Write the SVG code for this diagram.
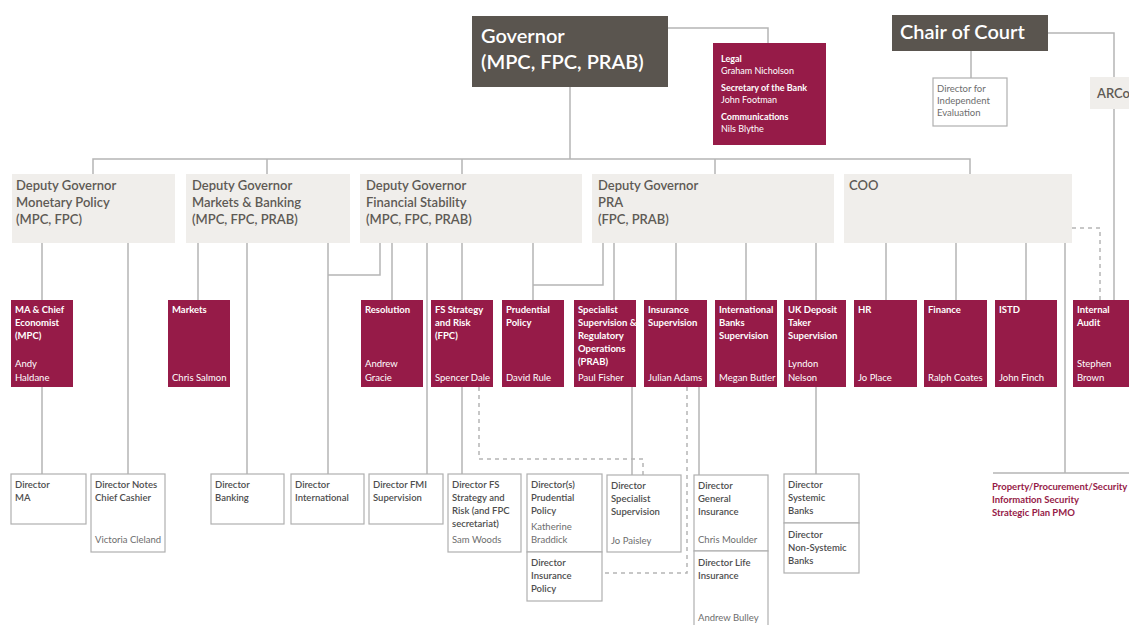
<svg xmlns="http://www.w3.org/2000/svg" width="1129" height="625" viewBox="0 0 1129 625">
<style>
.c{fill:none;stroke:#b5b5b5;stroke-width:1.5}
.d{fill:none;stroke:#b5b5b5;stroke-width:1.5;stroke-dasharray:4 4}
.dark{fill:#5a554f}
.dep{fill:#f0eeeb}
.red{fill:#961b48}
.dir{fill:#fff;stroke:#b0b0b0;stroke-width:1.2}
text{font-family:Lato,"Open Sans",sans-serif}
.h1{fill:#fff;font-size:20px;font-weight:600}
.dt{fill:#5e5a55;font-size:13px;font-weight:600}
.rt{fill:#fff;font-size:9.5px;font-weight:700}
.rn{fill:#fff;font-size:9.5px;font-weight:400}
.xt{fill:#4d4d4d;font-size:9.5px;font-weight:600}
.xn{fill:#6d6d6d;font-size:9.5px;font-weight:400}
.pt{fill:#961b48;font-size:9.5px;font-weight:700}
</style>
<rect width="1129" height="625" fill="#fff"/>
<g id="connectors">
<path class="c" d="M570,87V159M93,174V159H970V174M267,159V174M462,159V174M715,159V174"/>
<path class="c" d="M668,28H768V43M971,51V78M1048,33H1114V77M1114,109V300"/>
<path class="c" d="M42,243V474M128,243V474M198,243V300M247,243V474M328,243V474"/>
<path class="c" d="M380,243V275H328M392,243V300M427,243V474M462,243V474M533,243V300"/>
<path class="c" d="M603,243V285H533M614,243V300M632,387V475M676,243V300M699,387V475M746,243V300M816,243V474"/>
<path class="c" d="M886,243V300M956,243V300M1026,243V300M1065,243V473M993,473H1129"/>
<path class="d" d="M1072,228H1100V300M479,387V459H643V475M687,387V573H602"/>
</g>
<g id="governor"><rect class="dark" x="472" y="16" width="196" height="71"/><text class="h1" x="481" y="43">Governor</text><text class="h1" x="481" y="69">(MPC, FPC, PRAB)</text></g>
<g id="legal"><rect class="red" x="713" y="43" width="113" height="102"/>
<text x="721" y="62" class="rt" style="font-size:9px">Legal</text><text x="721" y="74" class="rn" style="font-size:9px">Graham Nicholson</text>
<text x="721" y="91" class="rt" style="font-size:9px">Secretary of the Bank</text><text x="721" y="103" class="rn" style="font-size:9px">John Footman</text>
<text x="721" y="120" class="rt" style="font-size:9px">Communications</text><text x="721" y="132" class="rn" style="font-size:9px">Nils Blythe</text></g>
<g id="chair"><rect class="dark" x="892" y="15" width="156" height="36"/><text class="h1" x="900" y="39">Chair of Court</text></g>
<g id="die"><rect class="dir" x="933" y="78" width="74" height="48"/><text class="xn" x="937" y="92">Director for</text><text class="xn" x="937" y="104">Independent</text><text class="xn" x="937" y="116">Evaluation</text></g>
<g id="arco"><rect class="dep" x="1090" y="77" width="45" height="32"/><text class="dt" x="1097" y="98">ARCo</text></g>
<g id="dg-mp"><rect class="dep" x="12" y="174" width="163" height="69"/><text class="dt" x="16" y="190">Deputy Governor</text><text class="dt" x="16" y="207">Monetary Policy</text><text class="dt" x="16" y="224">(MPC, FPC)</text></g>
<g id="dg-mb"><rect class="dep" x="186" y="174" width="164" height="69"/><text class="dt" x="192" y="190">Deputy Governor</text><text class="dt" x="192" y="207">Markets &amp; Banking</text><text class="dt" x="192" y="224">(MPC, FPC, PRAB)</text></g>
<g id="dg-fs"><rect class="dep" x="360" y="174" width="222" height="69"/><text class="dt" x="366" y="190">Deputy Governor</text><text class="dt" x="366" y="207">Financial Stability</text><text class="dt" x="366" y="224">(MPC, FPC, PRAB)</text></g>
<g id="dg-pra"><rect class="dep" x="592" y="174" width="242" height="69"/><text class="dt" x="598" y="190">Deputy Governor</text><text class="dt" x="598" y="207">PRA</text><text class="dt" x="598" y="224">(FPC, PRAB)</text></g>
<g id="coo"><rect class="dep" x="844" y="174" width="228" height="69"/><text class="dt" x="849" y="190">COO</text></g>
<g id="ma"><rect class="red" x="11" y="300" width="62" height="87"/><text class="rt" x="15" y="313">MA &amp; Chief</text><text class="rt" x="15" y="326">Economist</text><text class="rt" x="15" y="339">(MPC)</text><text class="rn" x="15" y="367">Andy</text><text class="rn" x="15" y="381">Haldane</text></g>
<g id="markets"><rect class="red" x="168" y="300" width="62" height="87"/><text class="rt" x="172" y="313">Markets</text><text class="rn" x="172" y="381">Chris Salmon</text></g>
<g id="resolution"><rect class="red" x="361" y="300" width="62" height="87"/><text class="rt" x="365" y="313">Resolution</text><text class="rn" x="365" y="367">Andrew</text><text class="rn" x="365" y="381">Gracie</text></g>
<g id="fsr"><rect class="red" x="431" y="300" width="62" height="87"/><text class="rt" x="435" y="313">FS Strategy</text><text class="rt" x="435" y="326">and Risk</text><text class="rt" x="435" y="339">(FPC)</text><text class="rn" x="435" y="381">Spencer Dale</text></g>
<g id="pp"><rect class="red" x="502" y="300" width="62" height="87"/><text class="rt" x="506" y="313">Prudential</text><text class="rt" x="506" y="326">Policy</text><text class="rn" x="506" y="381">David Rule</text></g>
<g id="ss"><rect class="red" x="574" y="300" width="62" height="87"/><text class="rt" x="578" y="313">Specialist</text><text class="rt" x="578" y="326">Supervision &amp;</text><text class="rt" x="578" y="339">Regulatory</text><text class="rt" x="578" y="352">Operations</text><text class="rt" x="578" y="365">(PRAB)</text><text class="rn" x="578" y="381">Paul Fisher</text></g>
<g id="is"><rect class="red" x="644" y="300" width="63" height="87"/><text class="rt" x="648" y="313">Insurance</text><text class="rt" x="648" y="326">Supervision</text><text class="rn" x="648" y="381">Julian Adams</text></g>
<g id="ibs"><rect class="red" x="715" y="300" width="62" height="87"/><text class="rt" x="719" y="313">International</text><text class="rt" x="719" y="326">Banks</text><text class="rt" x="719" y="339">Supervision</text><text class="rn" x="719" y="381">Megan Butler</text></g>
<g id="ukd"><rect class="red" x="784" y="300" width="62" height="87"/><text class="rt" x="788" y="313">UK Deposit</text><text class="rt" x="788" y="326">Taker</text><text class="rt" x="788" y="339">Supervision</text><text class="rn" x="788" y="367">Lyndon</text><text class="rn" x="788" y="381">Nelson</text></g>
<g id="hr"><rect class="red" x="854" y="300" width="63" height="87"/><text class="rt" x="858" y="313">HR</text><text class="rn" x="858" y="381">Jo Place</text></g>
<g id="finance"><rect class="red" x="924" y="300" width="63" height="87"/><text class="rt" x="928" y="313">Finance</text><text class="rn" x="928" y="381">Ralph Coates</text></g>
<g id="istd"><rect class="red" x="995" y="300" width="62" height="87"/><text class="rt" x="999" y="313">ISTD</text><text class="rn" x="999" y="381">John Finch</text></g>
<g id="audit"><rect class="red" x="1073" y="300" width="62" height="87"/><text class="rt" x="1077" y="313">Internal</text><text class="rt" x="1077" y="326">Audit</text><text class="rn" x="1077" y="367">Stephen</text><text class="rn" x="1077" y="381">Brown</text></g>
<g id="d-ma"><rect class="dir" x="11" y="474" width="75" height="50"/><text class="xt" x="15" y="488">Director</text><text class="xt" x="15" y="501">MA</text></g>
<g id="d-notes"><rect class="dir" x="91" y="474" width="74" height="78"/><text class="xt" x="95" y="488">Director Notes</text><text class="xt" x="95" y="501">Chief Cashier</text><text class="xn" x="95" y="543">Victoria Cleland</text></g>
<g id="d-banking"><rect class="dir" x="211" y="474" width="73" height="50"/><text class="xt" x="215" y="488">Director</text><text class="xt" x="215" y="501">Banking</text></g>
<g id="d-intl"><rect class="dir" x="291" y="474" width="73" height="50"/><text class="xt" x="295" y="488">Director</text><text class="xt" x="295" y="501">International</text></g>
<g id="d-fmi"><rect class="dir" x="369" y="474" width="74" height="50"/><text class="xt" x="373" y="488">Director FMI</text><text class="xt" x="373" y="501">Supervision</text></g>
<g id="d-fs"><rect class="dir" x="448" y="474" width="73" height="78"/><text class="xt" x="452" y="488">Director FS</text><text class="xt" x="452" y="501">Strategy and</text><text class="xt" x="452" y="514">Risk (and FPC</text><text class="xt" x="452" y="527">secretariat)</text><text class="xn" x="452" y="543">Sam Woods</text></g>
<g id="d-pp"><rect class="dir" x="527" y="474" width="75" height="78"/><text class="xt" x="531" y="488">Director(s)</text><text class="xt" x="531" y="501">Prudential</text><text class="xt" x="531" y="514">Policy</text><text class="xn" x="531" y="530">Katherine</text><text class="xn" x="531" y="543">Braddick</text></g>
<g id="d-ip"><rect class="dir" x="527" y="552" width="75" height="49"/><text class="xt" x="531" y="566">Director</text><text class="xt" x="531" y="579">Insurance</text><text class="xt" x="531" y="592">Policy</text></g>
<g id="d-ss"><rect class="dir" x="607" y="475" width="74" height="77"/><text class="xt" x="611" y="489">Director</text><text class="xt" x="611" y="502">Specialist</text><text class="xt" x="611" y="515">Supervision</text><text class="xn" x="611" y="544">Jo Paisley</text></g>
<g id="d-gi"><rect class="dir" x="694" y="475" width="74" height="76"/><text class="xt" x="698" y="489">Director</text><text class="xt" x="698" y="502">General</text><text class="xt" x="698" y="515">Insurance</text><text class="xn" x="698" y="543">Chris Moulder</text></g>
<g id="d-li"><rect class="dir" x="694" y="551" width="74" height="80"/><text class="xt" x="698" y="566">Director Life</text><text class="xt" x="698" y="579">Insurance</text><text class="xn" x="698" y="621">Andrew Bulley</text></g>
<g id="d-sys"><rect class="dir" x="784" y="474" width="75" height="49"/><text class="xt" x="788" y="488">Director</text><text class="xt" x="788" y="501">Systemic</text><text class="xt" x="788" y="514">Banks</text></g>
<g id="d-nonsys"><rect class="dir" x="784" y="523" width="75" height="50"/><text class="xt" x="788" y="538">Director</text><text class="xt" x="788" y="551">Non-Systemic</text><text class="xt" x="788" y="564">Banks</text></g>
<g id="property"><text class="pt" x="992" y="490">Property/Procurement/Security</text><text class="pt" x="992" y="503">Information Security</text><text class="pt" x="992" y="516">Strategic Plan PMO</text></g>
</svg>
